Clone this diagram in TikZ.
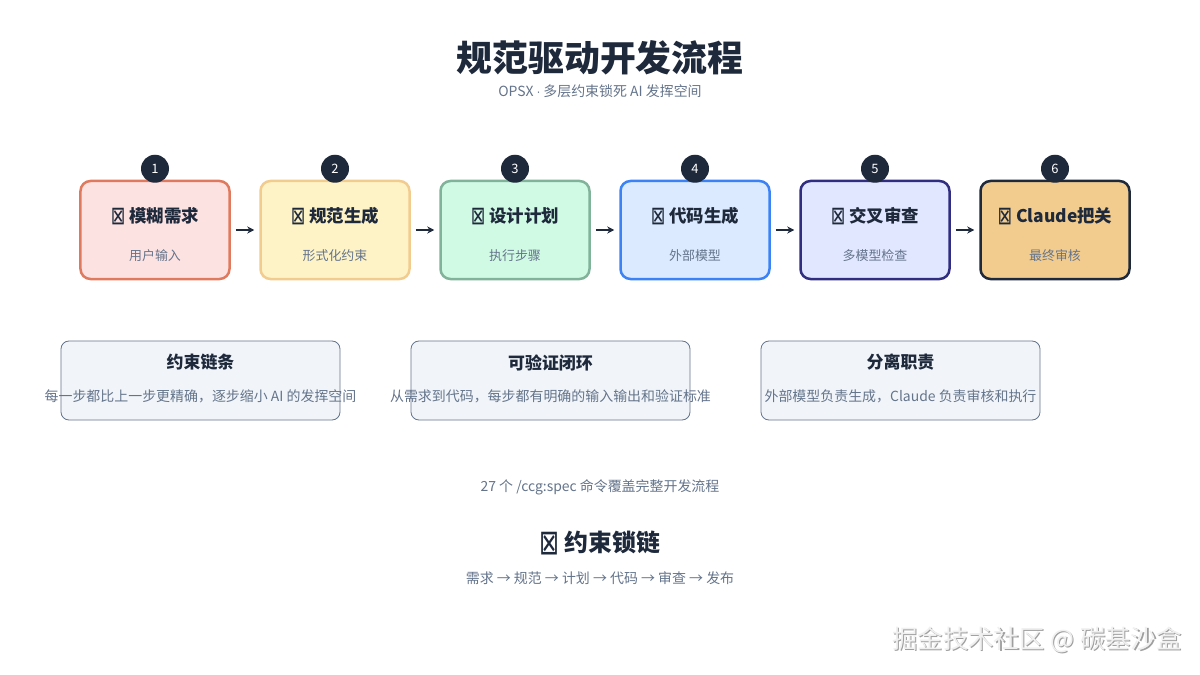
\documentclass[tikz,border=0pt]{standalone}
\usepackage{fontspec}
\setmainfont{Noto Sans CJK SC}
\newfontfamily\symfont{DejaVu Sans}
\usepackage{xcolor}
\usepackage{graphicx}
\usetikzlibrary{positioning, arrows.meta}
\definecolor{ink}{HTML}{1E293B}
\definecolor{muted}{HTML}{64748B}
\definecolor{redline}{HTML}{E07A5F}
\definecolor{redfill}{HTML}{FDE2E2}
\definecolor{sandline}{HTML}{F2CC8F}
\definecolor{sandfill}{HTML}{FEF3C7}
\definecolor{sageline}{HTML}{81B29A}
\definecolor{sagefill}{HTML}{D1FAE5}
\definecolor{blueline}{HTML}{3B82F6}
\definecolor{bluefill}{HTML}{DBEAFE}
\definecolor{indigoline}{HTML}{312E81}
\definecolor{indigofill}{HTML}{E0E7FF}
\definecolor{cardfill}{HTML}{F1F5F9}
\newcommand{\tofu}{\raisebox{-0.12em}{\scalebox{1.0}[1.45]{\symfont\mdseries\char"22A0}}}

\begin{document}
\begin{tikzpicture}[x=1bp, y=-1bp,
    stepbox/.style={draw, line width=2.5bp, rounded corners=10bp, minimum width=149bp, minimum height=98bp},
    stepnum/.style={circle, fill=ink, text=white, minimum size=28bp, inner sep=0pt, font=\fontsize{13}{13}\selectfont},
    steptitle/.style={text=ink, font=\fontsize{17.5}{17.5}\selectfont\bfseries},
    stepsub/.style={text=muted, font=\fontsize{13}{13}\selectfont},
    flow/.style={-{Stealth[length=7bp, width=7bp]}, line width=2bp, ink, shorten <=5bp, shorten >=5bp},
    card/.style={draw=muted, line width=0.8bp, fill=cardfill, rounded corners=8bp, minimum width=279bp, minimum height=79bp},
    cardtitle/.style={text=ink, font=\fontsize{17}{17}\selectfont\bfseries},
    carddesc/.style={text=muted, font=\fontsize{14}{14}\selectfont}
]
\useasboundingbox[fill=white] (0,0) rectangle (1200,675);

% title
\node[text=ink, font=\fontsize{36}{36}\selectfont\bfseries] (title) at (600,58) {规范驱动开发流程};
\node[text=muted, font=\fontsize{14}{14}\selectfont] (subtitle) at (600,91) {OPSX {\symfont\fontsize{11}{11}\selectfont·} 多层约束锁死 AI 发挥空间};

% steps
\node[stepbox, draw=redline, fill=redfill] (s1) at (155,230) {};
\node[stepbox, draw=sandline, fill=sandfill] (s2) at (335,230) {};
\node[stepbox, draw=sageline, fill=sagefill] (s3) at (515,230) {};
\node[stepbox, draw=blueline, fill=bluefill] (s4) at (695,230) {};
\node[stepbox, draw=indigoline, fill=indigofill] (s5) at (875,230) {};
\node[stepbox, draw=ink, fill=sandline] (s6) at (1055,230) {};

\node[steptitle] (t1) at ([yshift=14bp]s1.center) {\tofu\ 模糊需求};
\node[steptitle] (t2) at ([yshift=14bp]s2.center) {\tofu\ 规范生成};
\node[steptitle] (t3) at ([yshift=14bp]s3.center) {\tofu\ 设计计划};
\node[steptitle] (t4) at ([yshift=14bp]s4.center) {\tofu\ 代码生成};
\node[steptitle] (t5) at ([yshift=14bp]s5.center) {\tofu\ 交叉审查};
\node[steptitle] (t6) at ([yshift=14bp]s6.center) {\tofu\ Claude把关};

\node[stepsub] (d1) at ([yshift=-26bp]s1.center) {用户输入};
\node[stepsub] (d2) at ([yshift=-26bp]s2.center) {形式化约束};
\node[stepsub] (d3) at ([yshift=-26bp]s3.center) {执行步骤};
\node[stepsub] (d4) at ([yshift=-26bp]s4.center) {外部模型};
\node[stepsub] (d5) at ([yshift=-26bp]s5.center) {多模型检查};
\node[stepsub] (d6) at ([yshift=-26bp]s6.center) {最终审核};

\node[stepnum] (n1) at ([yshift=11bp]s1.north) {1};
\node[stepnum] (n2) at ([yshift=11bp]s2.north) {2};
\node[stepnum] (n3) at ([yshift=11bp]s3.north) {3};
\node[stepnum] (n4) at ([yshift=11bp]s4.north) {4};
\node[stepnum] (n5) at ([yshift=11bp]s5.north) {5};
\node[stepnum] (n6) at ([yshift=11bp]s6.north) {6};

\draw[flow] (s1) -- (s2);
\draw[flow] (s2) -- (s3);
\draw[flow] (s3) -- (s4);
\draw[flow] (s4) -- (s5);
\draw[flow] (s5) -- (s6);

% principles
\node[card] (c1) at (200.5,380.5) {};
\node[card] (c2) at (550.5,380.5) {};
\node[card] (c3) at (900.5,380.5) {};

\node[cardtitle] (ct1) at ([yshift=18bp]c1.center) {约束链条};
\node[cardtitle] (ct2) at ([yshift=18bp]c2.center) {可验证闭环};
\node[cardtitle] (ct3) at ([yshift=18bp]c3.center) {分离职责};

\node[carddesc] (cd1) at ([yshift=-16bp]c1.center) {每一步都比上一步更精确，逐步缩小 AI 的发挥空间};
\node[carddesc] (cd2) at ([yshift=-16bp]c2.center) {从需求到代码，每步都有明确的输入输出和验证标准};
\node[carddesc] (cd3) at ([yshift=-16bp]c3.center) {外部模型负责生成，Claude 负责审核和执行};

% footer
\node[text=muted, font=\fontsize{14}{14}\selectfont] (cmds) at (600,487) {27 个 /ccg:spec 命令覆盖完整开发流程};
\node[text=ink, font=\fontsize{24}{24}\selectfont\bfseries] (chain) at (600,543) {\tofu\ 约束锁链};
\node[text=muted, font=\fontsize{14}{14}\selectfont] (chainsteps) at (600,578) {需求 → 规范 → 计划 → 代码 → 审查 → 发布};

% watermark
\node[text=gray!75, font=\fontsize{25.5}{25.5}\selectfont] (markshadow) at (1038.2,641.2) {掘金技术社区 @ 碳基沙盒};
\node[text=gray!12, font=\fontsize{25.5}{25.5}\selectfont] (mark) at (1037,640) {掘金技术社区 @ 碳基沙盒};

\end{tikzpicture}
\end{document}
